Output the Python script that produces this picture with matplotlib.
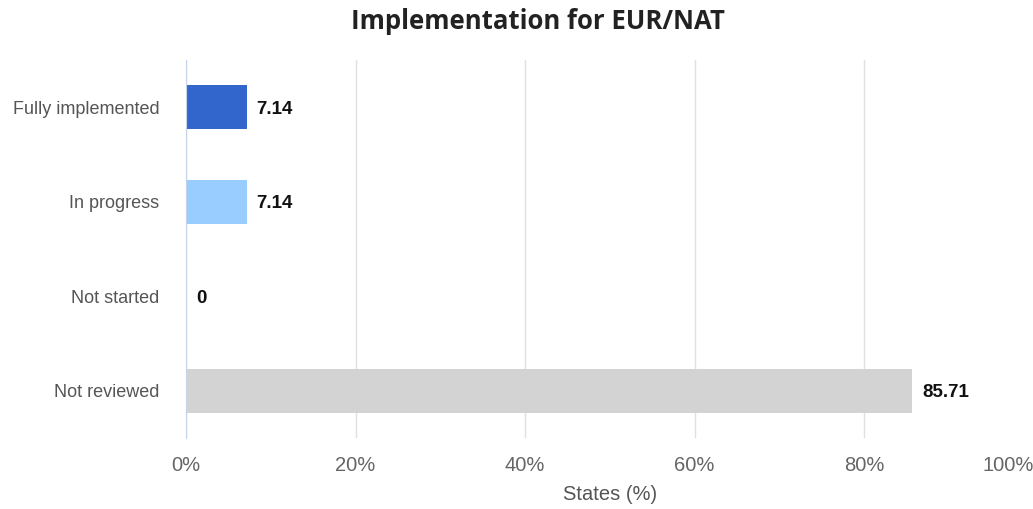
import numpy as np
import matplotlib
matplotlib.use("Agg")
from matplotlib import pyplot as plt
from matplotlib.ticker import PercentFormatter

categories = ["Fully implemented", "In progress", "Not started", "Not reviewed"]
values = [7.14, 7.14, 0, 85.71]
value_labels = ["7.14", "7.14", "0", "85.71"]
colors = ["#3366cc", "#99ccff", "#dc3912", "#d3d3d3"]

plt.rcParams["font.family"] = ["Liberation Sans", "DejaVu Sans"]

fig = plt.figure(figsize=(10.33, 5.09), dpi=100)
ax = fig.add_axes([186 / 1033, 1 - 438 / 509, 847.5 / 1033, 378 / 509])

y = np.arange(len(categories))
ax.barh(y, values, height=0.466, color=colors, zorder=2)
for yi, v, lab in zip(y, values, value_labels):
    ax.text(v + 1.2, yi + 0.02, lab, va="center", ha="left", fontsize=13.5,
            fontweight="bold", color="#111111")

ax.set_xlim(0, 100)
ax.set_ylim(3.5, -0.5)
ax.set_xticks([0, 20, 40, 60, 80, 100])
ax.xaxis.set_major_formatter(PercentFormatter(decimals=0))
ax.set_yticks(y)
ax.set_yticklabels(categories)
ax.tick_params(axis="both", length=0)
ax.tick_params(axis="y", pad=19, labelsize=13, labelcolor="#555555")
ax.tick_params(axis="x", pad=13, labelsize=14.5, labelcolor="#666666")
ax.get_xticklabels()[-1].set_horizontalalignment("right")
ax.grid(axis="x", color="#e0e0e0", lw=1, zorder=0)
for s in ["top", "right", "bottom"]:
    ax.spines[s].set_visible(False)
ax.spines["left"].set_color("#c6d3ec")
ax.spines["left"].set_zorder(3)
ax.set_xlabel("States (%)", fontsize=14.5, color="#555555", labelpad=7)

fig.text(0.521, 0.958, "Implementation for EUR/NAT", ha="center", va="center",
         fontsize=18.5, fontweight="bold", family=["Open Sans", "DejaVu Sans"],
         color="#222222")

fig.savefig("out.png", dpi=100)
